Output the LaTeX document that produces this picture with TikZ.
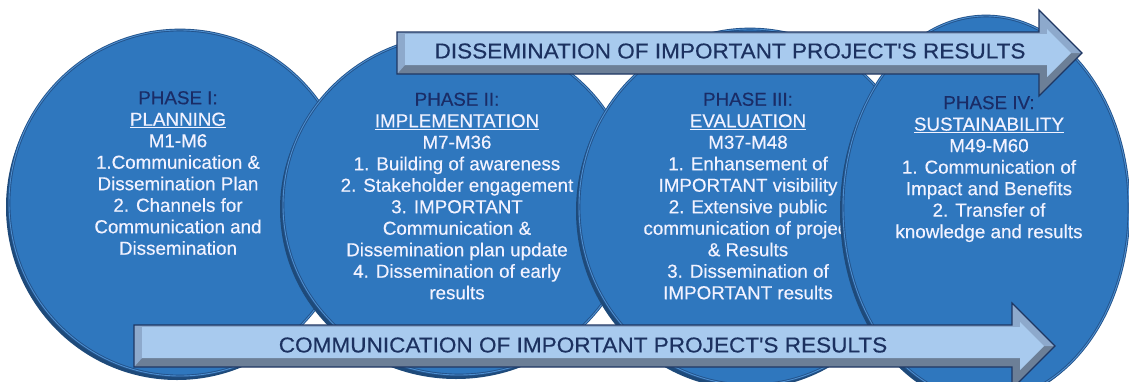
\documentclass[tikz,border=0pt]{standalone}
\usepackage{fontspec}
\setmainfont{Liberation Sans}[FakeBold=0.35]
\usepackage{graphicx}
\usetikzlibrary{shapes.geometric,shadows}

\definecolor{phaseblue}{HTML}{2F77BE}
\definecolor{phaserim}{HTML}{1E4A7A}
\definecolor{phaseedge}{HTML}{22528A}
\definecolor{phaseglow}{HTML}{4E8FD0}
\definecolor{navy}{HTML}{1A2C66}
\definecolor{bannerface}{HTML}{A8CAEE}
\definecolor{bannerlight}{HTML}{8DA9CC}
\definecolor{bannerdark}{HTML}{6C7F97}
\definecolor{bannerline}{HTML}{1F3763}
\definecolor{bannerink}{HTML}{1C3160}

% bevelled arrow: left end, middle line, start of the head
\newcommand{\banner}[3]{%
  \pgfmathsetmacro{\blen}{#3-#1}
  \begin{scope}[shift={(#1,#2)}]
    \fill[bannerdark] (0,-21) -- (\blen,-21) -- (\blen,-43) -- ({\blen+43},0) -- (\blen,43) -- (\blen,21) -- (0,21) -- cycle;
    \fill[bannerlight] (0,-21) -- (\blen,-21) -- (\blen,-43) -- ({\blen+43},0) -- ({\blen+32},0) -- ({\blen+8},-24) -- ({\blen+8},-19) -- (8,-19) -- (8,12) -- (0,21) -- cycle;
    \fill[bannerface] (8,-19) -- ({\blen+8},-19) -- ({\blen+8},-24) -- ({\blen+32},0) -- ({\blen+8},24) -- ({\blen+8},12) -- (8,12) -- cycle;
    \draw[bannerline, line width=1.2pt] (0,-21) -- (\blen,-21) -- (\blen,-43) -- ({\blen+43},0) -- (\blen,43) -- (\blen,21) -- (0,21) -- cycle;
  \end{scope}}

\begin{document}
\begin{tikzpicture}[x=1pt, y=-1pt,
    phase/.style={ellipse, inner sep=0, fill=phaseblue, draw=phaseedge, line width=0.9pt,
      double=phaseglow, double distance=0.9pt,
      drop shadow={shadow xshift=-3pt, shadow yshift=-4pt, fill=phaserim, opacity=1}},
    phasetext/.style={align=center, inner sep=0, text=white!95!blue,
      font=\fontsize{18.8}{21.5}\selectfont},
    bannertext/.style={inner sep=0, text=bannerink, font=\fontsize{21.5}{24}\selectfont}]
  \useasboundingbox (0,0) rectangle (1129,381);
  \clip (0,0) rectangle (1129,381);
  \fill[white] (0,0) rectangle (1129,381);

  \node[phase, minimum width=342pt, minimum height=346pt] (c1) at (180,203) {};
  \node[phasetext] (t1) at (178,173) {\textcolor{navy}{PHASE I:}\\\underline{PLANNING}\\M1-M6\\1.Communication \&\\Dissemination Plan\\2. Channels for\\Communication and\\Dissemination};

  \node[phase, minimum width=352pt, minimum height=340pt] (c2) at (459,205) {};
  \node[phasetext] (t2) at (457,196) {\textcolor{navy}{PHASE II:}\\\underline{IMPLEMENTATION}\\M7-M36\\1. Building of awareness\\2. Stakeholder engagement\\3. IMPORTANT\\Communication \&\\Dissemination plan update\\4. Dissemination of early\\results};

  \node[phase, minimum width=342pt, minimum height=356pt] (c3) at (750,207) {};
  \node[phasetext] (t3) at (748,196) {\textcolor{navy}{PHASE III:}\\\underline{EVALUATION}\\M37-M48\\1. Enhansement of\\IMPORTANT visibility\\2. Extensive public\\communication of project\\\& Results\\3. Dissemination of\\IMPORTANT results};

  \node[phase, minimum width=286pt, minimum height=384pt] (c4) at (986,208) {};
  \node[phasetext] (t4) at (989,169) {\textcolor{navy}{PHASE IV:}\\\underline{SUSTAINABILITY}\\M49-M60\\1. Communication of\\Impact and Benefits\\2. Transfer of\\knowledge and results};

  \banner{397}{53}{1039}
  \banner{134}{346}{1012}

  \node[bannertext] (dissem) at (730,51) {\scalebox{1.05}[1]{DISSEMINATION OF IMPORTANT PROJECT\textquotesingle S RESULTS}};
  \node[bannertext] (commun) at (583,345) {\scalebox{1.05}[1]{COMMUNICATION OF IMPORTANT PROJECT\textquotesingle S RESULTS}};
\end{tikzpicture}
\end{document}
